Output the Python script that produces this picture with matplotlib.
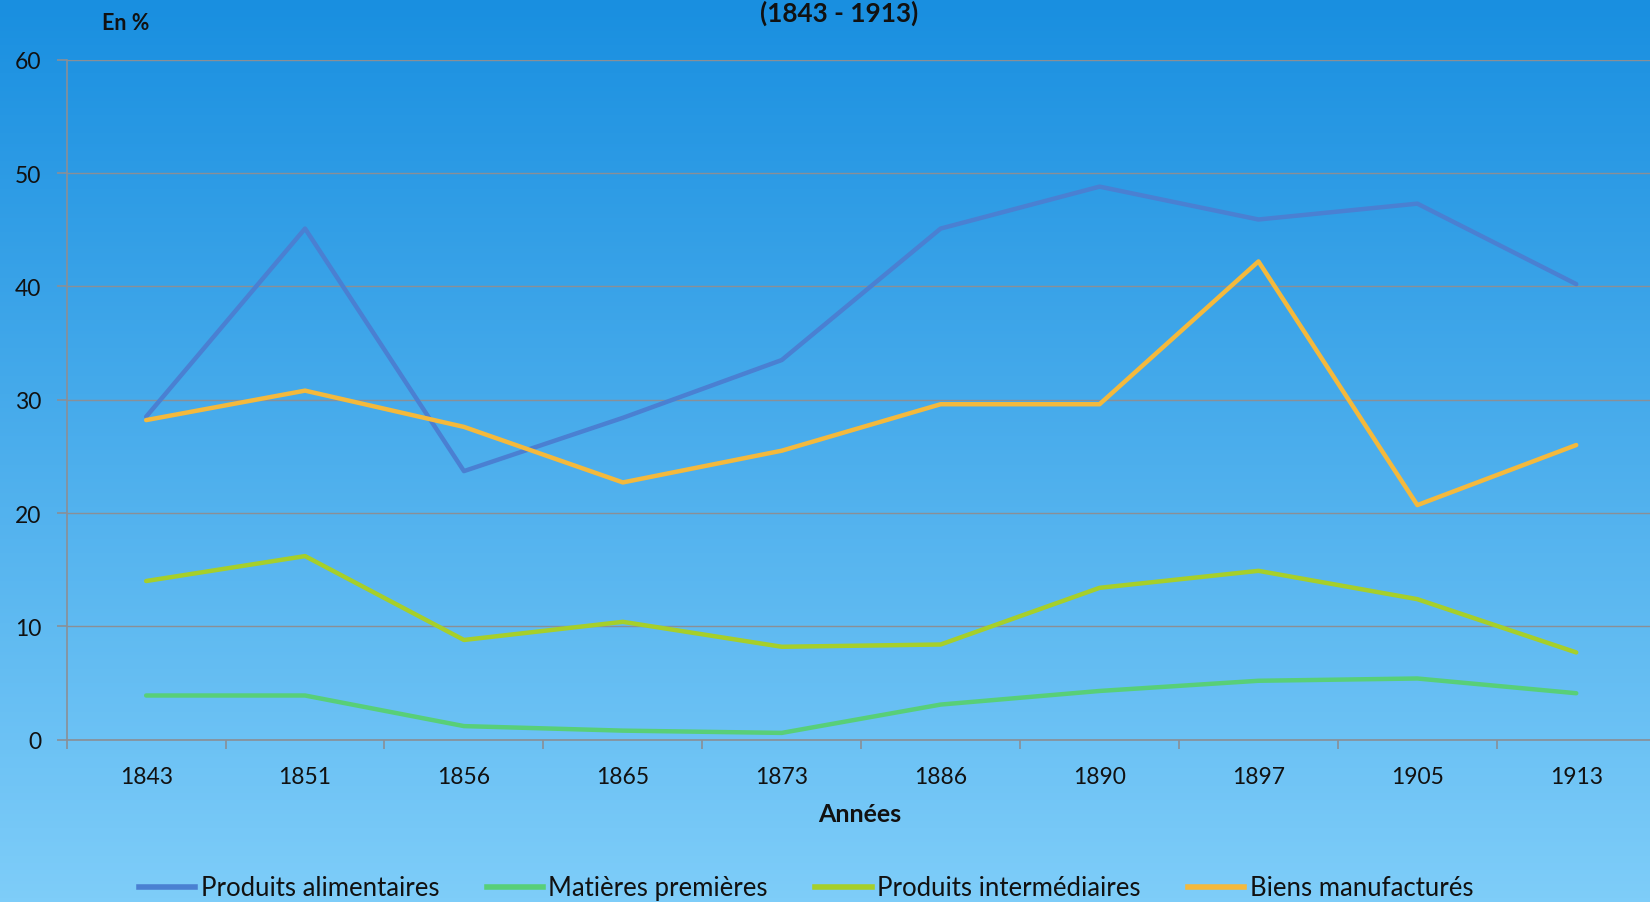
import numpy as np
import matplotlib
matplotlib.use("Agg")
import matplotlib.pyplot as plt
from matplotlib.lines import Line2D

plt.rcParams['font.family'] = ['Lato', 'DejaVu Sans']

years = ["1843", "1851", "1856", "1865", "1873", "1886", "1890", "1897", "1905", "1913"]
alimentaires = [28.5, 45.1, 23.7, 28.4, 33.5, 45.1, 48.8, 45.9, 47.3, 40.2]
matieres = [3.9, 3.9, 1.2, 0.8, 0.6, 3.1, 4.3, 5.2, 5.4, 4.1]
intermediaires = [14.0, 16.2, 8.8, 10.4, 8.2, 8.4, 13.4, 14.9, 12.4, 7.7]
manufactures = [28.2, 30.8, 27.6, 22.7, 25.5, 29.6, 29.6, 42.2, 20.7, 26.0]

series_names = ["Produits alimentaires", "Matières premières",
                "Produits intermédiaires", "Biens manufacturés"]
series_values = [alimentaires, matieres, intermediaires, manufactures]
colors = ["#4a80d2", "#58cf78", "#a6cf2a", "#f4b93c"]

W, H = 1650, 903
fig = plt.figure(figsize=(W / 100, H / 100), dpi=100)

# gradient background
bg = fig.add_axes([0, 0, 1, 1], zorder=-10)
top = np.array([0x19, 0x8f, 0xe0]) / 255
bot = np.array([0x7e, 0xcd, 0xf9]) / 255
t = np.linspace(0, 1, 256)[:, None]
grad = top[None, :] * (1 - t) + bot[None, :] * t
bg.imshow(grad[:, None, :], aspect='auto', extent=[0, 1, 0, 1])
bg.set_axis_off()

ax = fig.add_axes([66.7 / W, (H - 740.7) / H, 1589 / W, 680 / H])
ax.patch.set_alpha(0)
x = np.arange(len(years))
for name, vals, c in zip(series_names, series_values, colors):
    ax.plot(x, vals, color=c, lw=3.2, label=name, solid_capstyle='round',
            solid_joinstyle='round', zorder=3)

ax.set_xlim(-0.5, len(years) - 0.5)
ax.set_ylim(0, 60)
ax.set_yticks(range(0, 61, 10))
ax.yaxis.grid(True, color="#8a8f96", lw=1.0)
ax.set_axisbelow(True)
for s in ["top", "right"]:
    ax.spines[s].set_visible(False)
for s in ["left", "bottom"]:
    ax.spines[s].set_color("#8a8f96")
    ax.spines[s].set_linewidth(1.2)

ax.set_xticks(x)
ax.set_xticklabels(years)
ax.set_xticks(np.arange(-0.5, len(years), 1), minor=True)
ax.tick_params(axis='x', which='major', length=0, pad=19, labelsize=16.5, colors="#111111")
ax.tick_params(axis='x', which='minor', length=6.5, width=1.2, color="#8a8f96")
ax.tick_params(axis='y', length=7, width=1.2, color="#8a8f96", pad=11.5,
               labelsize=16.5, labelcolor="#111111")

fig.text(860 / W, 1 - 815 / H, "Années", ha='center', va='center',
         fontsize=18, fontweight='bold', color="#111111")
fig.text(102 / W, 1 - 23 / H, "En %", ha='left', va='center',
         fontsize=15.5, fontweight='bold', color="#111111")
fig.text(839 / W, 1 - 13 / H, "(1843 - 1913)", ha='center', va='center',
         fontsize=18.8, fontweight='bold', color="#111111")

handles = [Line2D([0], [0], color=c, lw=4) for c in colors]
fig.legend(handles, series_names, loc='center', bbox_to_anchor=(806 / W, 1 - 889 / H),
           ncol=4, frameon=False, fontsize=18.5, handlelength=2.2, handletextpad=0.2,
           columnspacing=1.85, labelcolor="#111111")

fig.savefig("out.png", dpi=100)
